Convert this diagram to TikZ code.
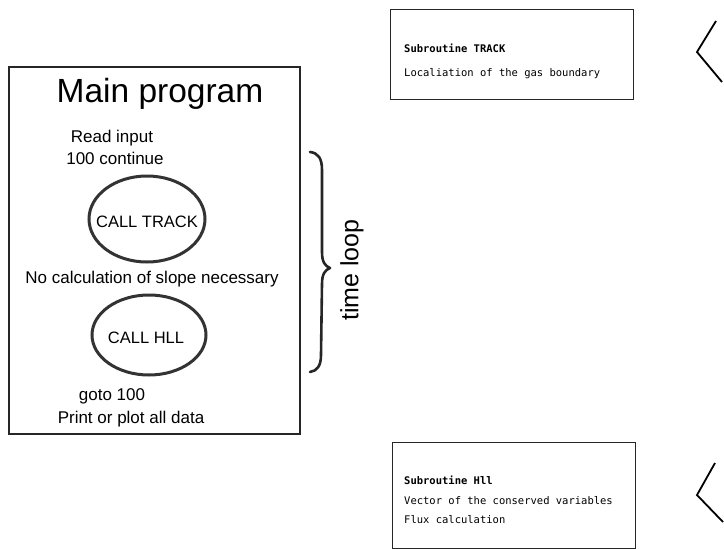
\documentclass[tikz,border=0pt]{standalone}
\usepackage{fontspec}
\setmainfont{Liberation Sans}
\newfontfamily\printerfont{DejaVu Sans Mono}
\usetikzlibrary{shapes.geometric}

\tikzset{
  x=1pt, y=-1pt,
  mainbox/.style={draw=black!85, line width=1.2pt},
  subbox/.style={draw=black!85, line width=0.9pt},
  callring/.style={draw=black!80, line width=3pt, ellipse, inner sep=0pt},
  label/.style={anchor=base, inner sep=0pt, font=\fontsize{17}{20}\selectfont},
  calltext/.style={anchor=base, inner sep=0pt, font=\fontsize{16.5}{20}\selectfont},
  printline/.style={anchor=base west, inner sep=0pt, font=\printerfont\fontsize{10.5}{13}\selectfont},
  printhead/.style={printline, font=\printerfont\bfseries\fontsize{10.5}{13}\selectfont},
  bracestroke/.style={draw=black!85, line width=2.6pt, line cap=round, line join=round},
  chevron/.style={draw=black, line width=1.8pt, line join=miter},
}

\begin{document}
\begin{tikzpicture}
\useasboundingbox (0,0) rectangle (724,549);

% main program frame
\draw[mainbox] (9,67) rectangle (300,434);
\node[anchor=base, inner sep=0pt, font=\fontsize{33.5}{38}\selectfont] (title) at (160,102) {Main program};
\node[label] (read) at (112,142) {Read input};
\node[label] (cont) at (115,164) {100 continue};

\node[callring, minimum width=116pt, minimum height=86pt] (track) at (147,219) {};
\node[calltext] (tracktxt) at (147,227) {CALL TRACK};

\node[label] (slope) at (152,283) {No calculation of slope necessary};

\node[callring, minimum width=114pt, minimum height=80pt] (hll) at (149,335) {};
\node[calltext] (hlltxt) at (146,343) {CALL HLL};

\node[label] (goto) at (112,400) {goto 100};
\node[label] (print) at (131,423) {Print or plot all data};

% time loop brace
\coordinate (bt) at (310,152);
\coordinate (bm) at (330,268);
\coordinate (bb) at (310,372);
\draw[bracestroke] (bt) .. controls (318,153) and (322,158) .. (322,170)
  -- (322,252) .. controls (322,262) and (325,266) .. (bm)
  .. controls (325,270) and (322,274) .. (322,284)
  -- (321,355) .. controls (321,366) and (317,371) .. (bb);
\node[rotate=90, inner sep=0pt, font=\fontsize{25}{28}\selectfont] (loop) at (352,270) {time loop};

% subroutine TRACK
\draw[subbox] (390,9) rectangle (633,99);
\node[printhead] (trackhead) at (404,52) {Subroutine TRACK};
\node[printline] (trackline) at (404,76) {Localiation of the gas boundary};

% subroutine Hll
\draw[subbox] (392,442) rectangle (635,548);
\node[printhead] (hllhead) at (404,484) {Subroutine Hll};
\node[printline] (hllline1) at (404,504) {Vector of the conserved variables};
\node[printline] (hllline2) at (404,523) {Flux calculation};

% chevrons at the right edge
\coordinate (c1a) at (716,21);
\coordinate (c1b) at (697,52);
\coordinate (c1c) at (722,82);
\draw[chevron] (c1a) -- (c1b) -- (c1c);
\coordinate (c2a) at (715,463);
\coordinate (c2b) at (697,495);
\coordinate (c2c) at (723,522);
\draw[chevron] (c2a) -- (c2b) -- (c2c);
\end{tikzpicture}
\end{document}
